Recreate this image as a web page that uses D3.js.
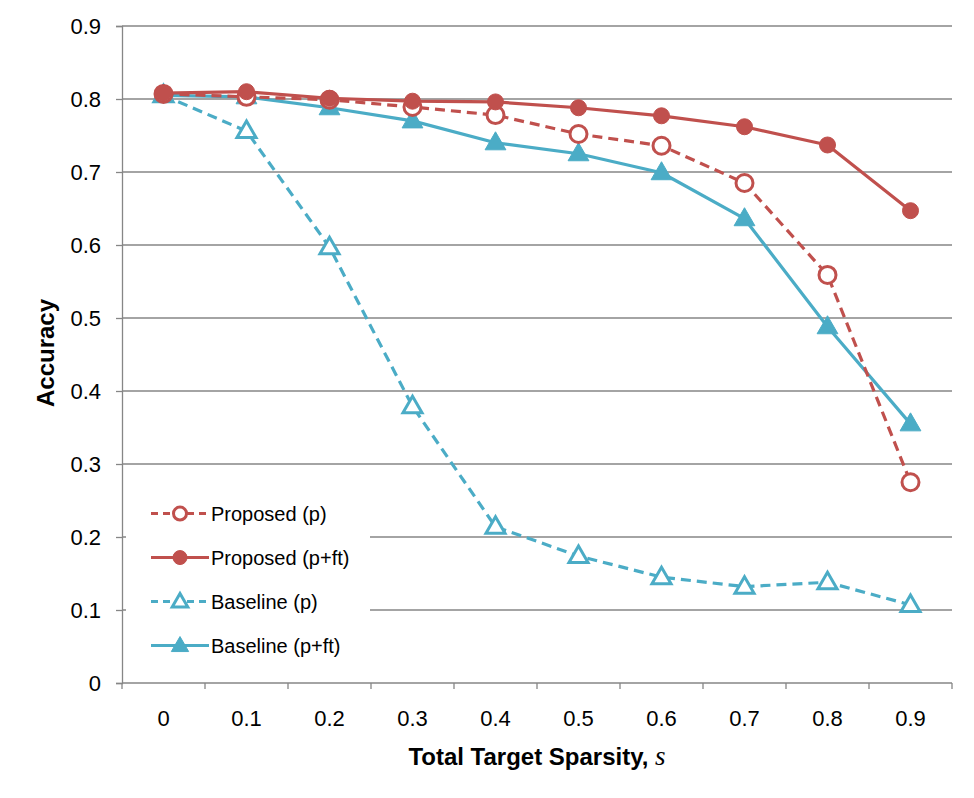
<!DOCTYPE html>
<html>
<head>
<meta charset="utf-8">
<script src="https://cdn.jsdelivr.net/npm/d3@7"></script>
<style>
  body { margin: 0; background: #fff; }
  text { font-family: "Liberation Sans", "DejaVu Sans", sans-serif; }
</style>
</head>
<body>
<script>
// ---- data ----
var sparsity = ["0", "0.1", "0.2", "0.3", "0.4", "0.5", "0.6", "0.7", "0.8", "0.9"];
var proposedP   = [0.807, 0.803, 0.799, 0.789, 0.778, 0.752, 0.736, 0.685, 0.559, 0.275];
var proposedPft = [0.808, 0.810, 0.801, 0.797, 0.796, 0.788, 0.777, 0.762, 0.737, 0.647];
var baselineP   = [0.805, 0.756, 0.597, 0.379, 0.214, 0.174, 0.145, 0.132, 0.138, 0.107];
var baselinePft = [0.805, 0.803, 0.788, 0.770, 0.740, 0.725, 0.699, 0.636, 0.488, 0.355];
var yTicks = [0, 0.1, 0.2, 0.3, 0.4, 0.5, 0.6, 0.7, 0.8, 0.9];

var series = [
  {name: "Proposed (p)",     values: proposedP,   color: "#C0504D", dashed: true,  marker: "circle",   filled: false},
  {name: "Proposed (p+ft)",  values: proposedPft, color: "#C0504D", dashed: false, marker: "circle",   filled: true},
  {name: "Baseline (p)",     values: baselineP,   color: "#4BACC6", dashed: true,  marker: "triangle", filled: false},
  {name: "Baseline (p+ft)",  values: baselinePft, color: "#4BACC6", dashed: false, marker: "triangle", filled: true}
];

var W = 974, H = 798;
var margin = {top: 26, right: 22, bottom: 115, left: 122};
var width = W - margin.left - margin.right,
    height = H - margin.top - margin.bottom;

var svg = d3.select("body").append("svg")
    .attr("width", W).attr("height", H);
var g = svg.append("g")
    .attr("transform", "translate(" + margin.left + "," + margin.top + ")");

var x = d3.scaleBand().domain(sparsity).range([0, width]);
var y = d3.scaleLinear().domain([0, 0.9]).range([height, 0]);

var gridColor = "#868686";

// gridlines
g.append("g").selectAll("line")
  .data(yTicks.slice(1))
  .enter().append("line")
    .attr("x1", 0).attr("x2", width)
    .attr("y1", function(d) { return y(d); })
    .attr("y2", function(d) { return y(d); })
    .attr("stroke", gridColor).attr("stroke-width", 1.3);

// y axis
var yAxis = g.append("g")
    .call(d3.axisLeft(y).tickValues(yTicks).tickSize(6).tickFormat(d3.format("")));
yAxis.select(".domain").attr("stroke", gridColor).attr("stroke-width", 1.3);
yAxis.selectAll(".tick line").attr("stroke", gridColor).attr("stroke-width", 1.3);
yAxis.selectAll(".tick text")
    .attr("x", -21).attr("font-size", 22).attr("fill", "#000")
    .style("font-family", "Liberation Sans, sans-serif");

// x axis (ticks on category boundaries)
var xAxisG = g.append("g").attr("transform", "translate(0," + height + ")");
xAxisG.append("line")
    .attr("x1", 0).attr("x2", width).attr("y1", 0).attr("y2", 0)
    .attr("stroke", gridColor).attr("stroke-width", 1.3);
var bounds = sparsity.map(function(d) { return x(d); }).concat([width]);
xAxisG.selectAll(".bt").data(bounds).enter().append("line")
    .attr("x1", function(d) { return d; }).attr("x2", function(d) { return d; })
    .attr("y1", 0).attr("y2", 6)
    .attr("stroke", gridColor).attr("stroke-width", 1.3);
xAxisG.selectAll(".xl").data(sparsity).enter().append("text")
    .attr("x", function(d) { return x(d) + x.bandwidth() / 2; })
    .attr("y", 43)
    .attr("text-anchor", "middle")
    .attr("font-size", 22)
    .text(function(d) { return d; });

// axis titles
var xt = svg.append("text")
    .attr("x", 537).attr("y", 765)
    .attr("text-anchor", "middle")
    .attr("font-size", 24).attr("font-weight", "bold");
xt.append("tspan").text("Total Target Sparsity, ");
xt.append("tspan")
    .style("font-family", "Liberation Serif, serif")
    .attr("font-style", "italic").attr("font-weight", "normal")
    .attr("font-size", 27).text("s");

svg.append("text")
    .attr("transform", "translate(54,353) rotate(-90)")
    .attr("text-anchor", "middle")
    .attr("font-size", 24).attr("font-weight", "bold")
    .text("Accuracy");

// markers
function drawMarker(sel, s, cx, cy, small) {
  if (s.marker === "circle") {
    sel.append("circle")
      .attr("cx", cx).attr("cy", cy)
      .attr("r", s.filled ? (small ? 7 : 8) : (small ? 6.5 : 8.5))
      .attr("fill", s.filled ? s.color : "#fff")
      .attr("stroke", s.color)
      .attr("stroke-width", s.filled ? 1 : 3);
  } else {
    var r = s.filled ? (small ? 10 : 12) : (small ? 9 : 11);
    var tri = d3.symbol().type(d3.symbolTriangle).size(r * r * 1.3)();
    sel.append("path")
      .attr("d", tri)
      .attr("transform", "translate(" + cx + "," + (cy + 1) + ")")
      .attr("fill", s.filled ? s.color : "#fff")
      .attr("stroke", s.color)
      .attr("stroke-width", s.filled ? 1 : 3);
  }
}

// legend background (hides gridlines)
var lg = g.append("g").attr("transform", "translate(4," + (y(0.265)) + ")");
lg.append("rect")
    .attr("x", 0).attr("y", 0).attr("width", 244).attr("height", 176)
    .attr("fill", "#fff");

// lines
var line = d3.line()
    .x(function(d, i) { return x(sparsity[i]) + x.bandwidth() / 2; })
    .y(function(d) { return y(d); });

var drawOrder = [2, 3, 0, 1];
drawOrder.forEach(function(k) {
  var s = series[k];
  g.append("path")
    .datum(s.values)
    .attr("d", line)
    .attr("fill", "none")
    .attr("stroke", s.color)
    .attr("stroke-width", 3.2)
    .attr("stroke-dasharray", s.dashed ? "10,6" : null)
    .attr("stroke-linejoin", "round");
  s.values.forEach(function(v, i) {
    drawMarker(g, s, x(sparsity[i]) + x.bandwidth() / 2, y(v), false);
  });
});

// legend entries
series.forEach(function(s, i) {
  var ly = 24 + i * 44;
  var item = lg.append("g");
  item.append("line")
    .attr("x1", 25).attr("x2", 83).attr("y1", ly).attr("y2", ly)
    .attr("stroke", s.color).attr("stroke-width", 3)
    .attr("stroke-dasharray", s.dashed ? "7,5" : null);
  drawMarker(item, s, 54, ly, true);
  item.append("text")
    .attr("x", 85).attr("y", ly + 7)
    .attr("font-size", 20)
    .text(s.name);
});
</script>
</body>
</html>
